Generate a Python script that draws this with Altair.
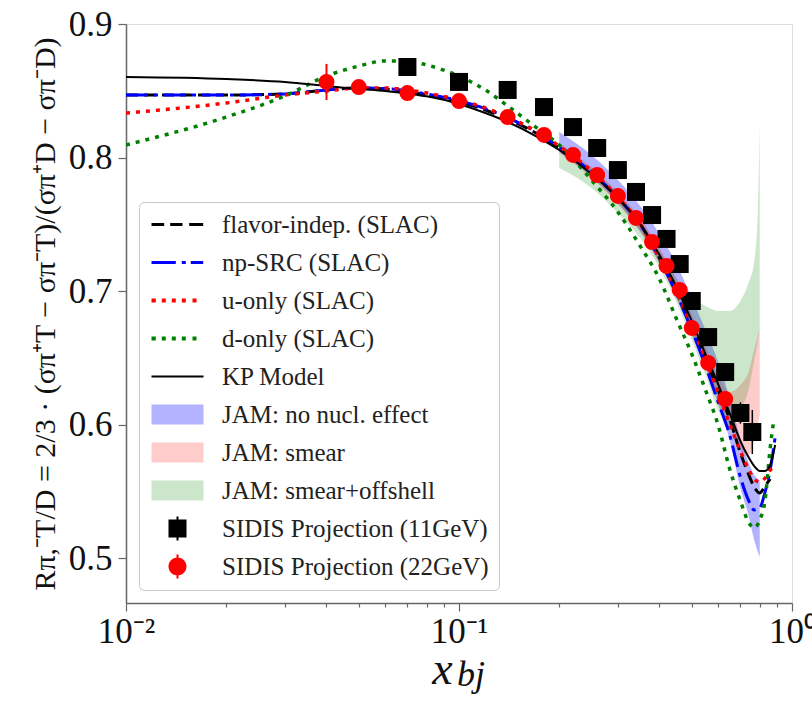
import altair as alt
import pandas as pd

FONT = "Liberation Serif"

# ---------------- data ----------------
x_grid = [0.01, 0.02, 0.03, 0.04, 0.05, 0.06, 0.07, 0.08, 0.1, 0.12, 0.14, 0.17,
          0.2, 0.25, 0.3, 0.35, 0.4, 0.45, 0.5, 0.55, 0.6, 0.65, 0.7, 0.74, 0.77,
          0.8, 0.83, 0.86]

flavor_x = x_grid
flavor_y = [0.8468, 0.8468, 0.8476, 0.8506, 0.8521, 0.8513, 0.8491, 0.8468, 0.8416,
            0.8356, 0.8288, 0.8184, 0.8071, 0.7884, 0.7697, 0.7502, 0.7247, 0.6993,
            0.6730, 0.6491, 0.6258, 0.6041, 0.5787, 0.5629, 0.5532, 0.5487, 0.5539,
            0.5592]

np_x = x_grid + [0.89]
np_y = [0.8468, 0.8468, 0.8476, 0.8506, 0.8521, 0.8516, 0.8498, 0.8476, 0.8426,
        0.8366, 0.8298, 0.8192, 0.8078, 0.7888, 0.7697, 0.7497, 0.7240, 0.6980,
        0.6708, 0.6438, 0.6169, 0.5921, 0.5607, 0.5434, 0.5360, 0.5375, 0.5494,
        0.5659, 0.5906]

u_x = x_grid + [0.88]
u_y = [0.8333, 0.8408, 0.8468, 0.8498, 0.8521, 0.8521, 0.8506, 0.8483, 0.8431,
       0.8371, 0.8303, 0.8199, 0.8086, 0.7899, 0.7704, 0.7502, 0.7247, 0.6993,
       0.6738, 0.6491, 0.6236, 0.6004, 0.5801, 0.5667, 0.5592, 0.5569, 0.5599,
       0.5659, 0.5682]

d_x = x_grid + [0.88]
d_y = [0.8094, 0.8303, 0.8461, 0.8610, 0.8685, 0.8723, 0.8723, 0.8693, 0.8610,
       0.8506, 0.8386, 0.8228, 0.8094, 0.7831, 0.7592, 0.7337, 0.7090, 0.6790,
       0.6528, 0.6258, 0.5996, 0.5667, 0.5427, 0.5270, 0.5225, 0.5285, 0.5434,
       0.5824, 0.6019]

kp_x = x_grid + [0.89]
kp_y = [0.8603, 0.8588, 0.8566, 0.8536, 0.8513, 0.8498, 0.8478, 0.8458, 0.8401,
        0.8333, 0.8266, 0.8161, 0.8056, 0.7876, 0.7697, 0.7502, 0.7270, 0.7030,
        0.6775, 0.6528, 0.6303, 0.6086, 0.5876, 0.5757, 0.5689, 0.5652, 0.5652,
        0.5697, 0.5846]

band_x = [0.2, 0.25, 0.3, 0.35, 0.4, 0.45, 0.5, 0.55, 0.6, 0.65, 0.7, 0.74, 0.77, 0.8]
blue_lo = [0.8041, 0.7854, 0.7659, 0.7449, 0.7210, 0.6948, 0.6678, 0.6423, 0.6154,
           0.5884, 0.5524, 0.5322, 0.5135, 0.5007]
blue_hi = [0.8191, 0.8019, 0.7831, 0.7637, 0.7427, 0.7202, 0.6948, 0.6708, 0.6469,
           0.6199, 0.5899, 0.5719, 0.5622, 0.5584]
pink_lo = [0.8034, 0.7846, 0.7652, 0.7442, 0.7202, 0.6948, 0.6678, 0.6438, 0.6199,
           0.5996, 0.5809, 0.5772, 0.5884, 0.6071]
pink_hi = [0.8109, 0.7929, 0.7742, 0.7547, 0.7322, 0.7082, 0.6828, 0.6588, 0.6371,
           0.6243, 0.6296, 0.6393, 0.6558, 0.6723]

green_x = [0.2, 0.25, 0.3, 0.35, 0.4, 0.45, 0.5, 0.55, 0.6, 0.65, 0.7, 0.74, 0.77,
           0.79, 0.8]
green_lo = [0.7921, 0.7772, 0.7584, 0.7397, 0.7172, 0.6918, 0.6633, 0.6371, 0.6109,
            0.5959, 0.6109, 0.6258, 0.6483, 0.6633, 0.6723]
green_hi = [0.8041, 0.7914, 0.7727, 0.7532, 0.7307, 0.7097, 0.6955, 0.6888, 0.6850,
            0.6850, 0.6925, 0.7060, 0.7217, 0.7600, 0.8258]

x11 = [0.07, 0.10, 0.14, 0.18, 0.22, 0.26, 0.30, 0.34, 0.38, 0.42, 0.46, 0.50,
       0.56, 0.63, 0.70, 0.76]
y11 = [0.8678, 0.8566, 0.8506, 0.8378, 0.8228, 0.8071, 0.7906, 0.7742, 0.7569,
       0.7390, 0.7202, 0.6925, 0.6655, 0.6393, 0.6086, 0.5944]
e11 = [0.003, 0.003, 0.003, 0.003, 0.003, 0.003, 0.003, 0.003, 0.003, 0.003,
       0.004, 0.004, 0.005, 0.006, 0.008, 0.0165]

x22 = [0.04, 0.05, 0.07, 0.10, 0.14, 0.18, 0.22, 0.26, 0.30, 0.34, 0.38, 0.42,
       0.46, 0.50, 0.56, 0.63]
y22 = [0.8566, 0.8528, 0.8483, 0.8423, 0.8303, 0.8169, 0.8019, 0.7869, 0.7712,
       0.7547, 0.7367, 0.7188, 0.7008, 0.6723, 0.6461, 0.6191]
e22 = [0.0135, 0.003, 0.003, 0.003, 0.003, 0.003, 0.003, 0.003, 0.003, 0.003,
       0.003, 0.003, 0.003, 0.003, 0.003, 0.003]

legend_labels = ["flavor-indep. (SLAC)", "np-SRC (SLAC)", "u-only (SLAC)",
                 "d-only (SLAC)", "KP Model", "JAM: no nucl. effect", "JAM: smear",
                 "JAM: smear+offshell", "SIDIS Projection (11GeV)",
                 "SIDIS Projection (22GeV)"]
legend_colors = ["#000000", "#0000ff", "#ff0000", "#008000", "#000000",
                 "#b3b3ff", "#ffcccc", "#cce6cc", "#000000", "#ff0000"]

x_tick_values = [0.01, 0.02, 0.03, 0.04, 0.05, 0.06, 0.07, 0.08, 0.09,
                 0.1, 0.2, 0.3, 0.4, 0.5, 0.6, 0.7, 0.8, 0.9, 1.0]
y_tick_values = [0.5, 0.6, 0.7, 0.8, 0.9]

# ---------------- legend symbol shapes (unit = 10 px) ----------------
DOTS = ("M-1,-0.2h0.43v0.4h-0.43Z M0.03,-0.2h0.4v0.4h-0.4Z M1.03,-0.2h0.4v0.4h-0.4Z "
        "M2.03,-0.2h0.4v0.4h-0.4Z M3.1,-0.2h0.4v0.4h-0.4Z")
legend_shapes = [
    "M-1,-0.15H0.27V0.15H-1Z M0.87,-0.15H2.1V0.15H0.87Z M2.77,-0.15H4.17V0.15H2.77Z",
    "M-1,-0.15H1.43V0.15H-1Z M2.03,-0.15H2.43V0.15H2.03Z M2.93,-0.15H4.17V0.15H2.93Z",
    DOTS,
    DOTS,
    "M-1,-0.1H4.2V0.1H-1Z",
    "M-1,-1H4.2V1H-1Z",
    "M-1,-1H4.2V1H-1Z",
    "M-1,-1H4.2V1H-1Z",
    "M0.7,-0.9H2.5V0.9H0.7Z M1.5,-1.2H1.7V-0.9H1.5Z M1.5,0.9H1.7V1.2H1.5Z",
    "M0.7,0A0.9,0.9 0 1,1 2.5,0A0.9,0.9 0 1,1 0.7,0Z M1.5,-1.2H1.7V-0.85H1.5Z M1.5,0.85H1.7V1.2H1.5Z",
]

# ---------------- scales / axes ----------------
xs = alt.Scale(type="log", domain=[0.01, 1.0], nice=False)
ys = alt.Scale(domain=[0.4663, 0.9], nice=False, zero=False)

x_axis = alt.Axis(
    values=x_tick_values,
    labelExpr="datum.value == 0.01 ? '10⁻²' : (datum.value == 0.1 ? '10⁻¹' : (datum.value == 1 ? '10⁰' : ''))",
    tickSize={"condition": {"test": "datum.value == 0.01 || datum.value == 0.1 || datum.value == 1", "value": 8}, "value": 4},
    labelFont=FONT, labelFontSize=35, labelColor="#111", labelPadding=3,
    labelFlush=False, labelOverlap=False, grid=False,
    domainColor="#666", domainWidth=1.5, tickColor="#666", tickWidth=1.2,
    title="x", titleFont=FONT, titleFontSize=46, titleFontStyle="italic",
    titleFontWeight="normal", titleColor="#111", titleBaseline="alphabetic",
    titleAlign="center", titleX=316, titleY=80,
)
y_axis = alt.Axis(
    values=y_tick_values, format=".1f",
    labelFont=FONT, labelFontSize=35, labelColor="#111", labelPadding=6,
    labelFlush=False, grid=False, tickSize=8,
    domainColor="#666", domainWidth=1.5, tickColor="#666", tickWidth=1.2,
    title="Rπ,⁻T/D = 2/3 · (σπ⁺T − σπ⁻T)/(σπ⁺D − σπ⁻D)",
    titleFont=FONT, titleFontSize=30, titleFontWeight="normal", titleColor="#111",
    titlePadding=8,
)

X = alt.X("x:Q", scale=xs, axis=x_axis)
Y = alt.Y("y:Q", scale=ys, axis=y_axis)


def df(xv, yv):
    return pd.DataFrame({"x": xv, "y": yv})


def band(xv, lo, hi, color, op):
    return alt.Chart(pd.DataFrame({"x": xv, "y": lo, "y2": hi})).mark_area(
        color=color, opacity=op, interpolate="monotone", clip=True
    ).encode(x=X, y=Y, y2="y2:Q")


def line(xv, yv, color, width, dash=None):
    kw = dict(color=color, strokeWidth=width, interpolate="monotone", clip=True)
    if dash:
        kw["strokeDash"] = dash
    return alt.Chart(df(xv, yv)).mark_line(**kw).encode(x=X, y=Y)


bands = [
    band(band_x, blue_lo, blue_hi, "#0000ff", 0.3),
    band(band_x, pink_lo, pink_hi, "#ff0000", 0.2),
    band(green_x, green_lo, green_hi, "#008000", 0.2),
]
lines = [
    line(flavor_x, flavor_y, "#000000", 3, [12, 6]),
    line(np_x, np_y, "#0000ff", 3, [22, 6, 4, 6]),
    line(u_x, u_y, "#ff0000", 3.5, [4, 6]),
    line(d_x, d_y, "#008000", 3.5, [4, 6]),
    line(kp_x, kp_y, "#000000", 2),
]

d11 = pd.DataFrame({"x": x11, "y": y11,
                    "lo": [a - b for a, b in zip(y11, e11)],
                    "hi": [a + b for a, b in zip(y11, e11)]})
d22 = pd.DataFrame({"x": x22, "y": y22,
                    "lo": [a - b for a, b in zip(y22, e22)],
                    "hi": [a + b for a, b in zip(y22, e22)]})

err11 = alt.Chart(d11).mark_rule(color="black", strokeWidth=1.5).encode(
    x=X, y=alt.Y("lo:Q", scale=ys, axis=y_axis), y2="hi:Q")
pts11 = alt.Chart(d11).mark_point(shape="square", filled=True, size=324,
                                  color="black", opacity=1).encode(x=X, y=Y)
err22 = alt.Chart(d22).mark_rule(color="red", strokeWidth=2).encode(
    x=X, y=alt.Y("lo:Q", scale=ys, axis=y_axis), y2="hi:Q")
pts22 = alt.Chart(d22).mark_circle(size=254, color="red", opacity=1).encode(x=X, y=Y)

leg = alt.Legend(
    title=None, orient="none", legendX=13, legendY=178,
    labelFont=FONT, labelFontSize=25, labelColor="#222", labelLimit=0,
    labelOffset=48, symbolSize=400, symbolStrokeWidth=0, symbolOpacity=1,
    rowPadding=12, padding=10, fillColor="white", strokeColor="#c8c8c8",
    cornerRadius=5,
)
legend_layer = alt.Chart(pd.DataFrame({"label": legend_labels})).mark_point(
    filled=True, size=400, opacity=1
).encode(
    fill=alt.Fill("label:N", scale=alt.Scale(domain=legend_labels, range=legend_colors), legend=leg),
    shape=alt.Shape("label:N", scale=alt.Scale(domain=legend_labels, range=legend_shapes), legend=leg),
).transform_filter("false")

sub = alt.Chart(pd.DataFrame({"t": ["bj"]})).mark_text(
    font=FONT, fontSize=36, fontStyle="italic", align="left", baseline="alphabetic",
    color="#111"
).encode(text="t:N", x=alt.value(331), y=alt.value(662))

chart = alt.layer(*bands, *lines, err11, pts11, err22, pts22, legend_layer, sub).properties(
    width=666, height=579,
    autosize=alt.AutoSizeParams(type="none"),
    padding={"left": 126, "top": 24, "right": 20, "bottom": 101},
).configure_view(stroke="#222", strokeWidth=1.5).configure(background="white")

chart.save("out.html", embed_options={"renderer": "svg", "actions": False})
